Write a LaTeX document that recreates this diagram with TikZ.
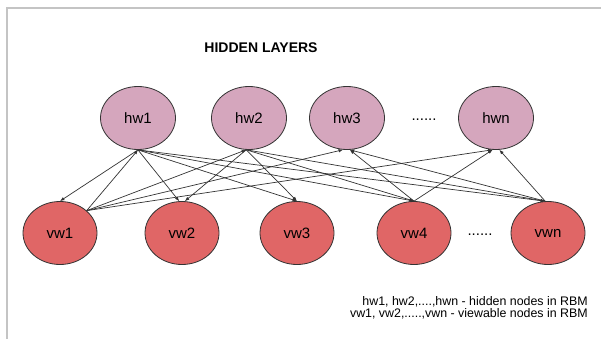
\documentclass[tikz,border=0pt]{standalone}
\usepackage{fontspec}
\setmainfont{Liberation Sans}
\usetikzlibrary{shapes.geometric,arrows.meta}
\definecolor{hidfill}{HTML}{D5A6BD}
\definecolor{visfill}{HTML}{E06666}
\definecolor{edgecol}{HTML}{333333}
\definecolor{framecol}{HTML}{C4C4C4}
\tikzset{
  hid/.style={ellipse, draw=edgecol, line width=0.8pt, fill=hidfill, minimum width=75pt, minimum height=63pt, inner sep=0pt, font=\fontsize{15}{18}\selectfont},
  vis/.style={ellipse, draw=edgecol, line width=0.8pt, fill=visfill, minimum width=74pt, minimum height=63pt, inner sep=0pt, font=\fontsize{15}{18}\selectfont},
  conn/.style={draw=edgecol, line width=0.7pt, -{Latex[length=4.5pt,width=3.5pt]}},
  dotstext/.style={font=\fontsize{15}{18}\selectfont, inner sep=0pt},
}
\begin{document}
\begin{tikzpicture}[x=1pt,y=-1pt]
\useasboundingbox (0,0) rectangle (601,339);
\fill[white] (0,0) rectangle (601,339);
\draw[framecol, line width=1.5pt] (7,339) -- (7,8) -- (601,8);
\node[font=\bfseries\fontsize{14}{16}\selectfont] (title) at (261,48) {HIDDEN LAYERS};
\node[hid] (hw1) at (138,118) {hw1};
\node[hid] (hw2) at (249,118) {hw2};
\node[hid] (hw3) at (347,118) {hw3};
\node[hid] (hwn) at (496,118) {hwn};
\node[dotstext] (hdots) at (424,120) {......};
\node[vis] (vw1) at (60,233) {vw1};
\node[vis] (vw2) at (182,233) {vw2};
\node[vis] (vw3) at (297,233) {vw3};
\node[vis] (vw4) at (414,233) {vw4};
\node[vis] (vwn) at (548,233) {vwn};
\node[dotstext] (vdots) at (480,235) {......};
% hw1 -> all visible
\draw[conn] (hw1.south) -- (vw1.north);
\draw[conn] (hw1.south) -- (vw2.95);
\draw[conn] (hw1.south) -- (vw3.north);
\draw[conn] (hw1.south) -- (vw4.north);
\draw[conn] (hw1.south) -- (vwn.95);
% hw2 -> vw2..vwn
\draw[conn] (hw2.265) -- (vw2.85);
\draw[conn] (hw2.265) -- (vw3.north);
\draw[conn] (hw2.265) -- (vw4.north);
\draw[conn] (hw2.265) -- (vwn.95);
% vw1 -> all hidden
\draw[conn] (vw1.40) -- (hw1.south);
\draw[conn] (vw1.40) -- (hw2.265);
\draw[conn] (vw1.40) -- (hw3.263);
\draw[conn] (vw1.40) -- (hwn.264);
% vw4, vwn -> hw3, hwn
\draw[conn] (vw4.north) -- (hw3.275);
\draw[conn] (vw4.north) -- (hwn.264);
\draw[conn] (vwn.95) -- (hw3.275);
\draw[conn] (vwn.95) -- (hwn.276);
\node[anchor=east, align=right, font=\fontsize{12.4}{11.7}\selectfont, inner sep=0pt] (legend) at (588,307.5) {hw1, hw2,....,hwn - hidden nodes in RBM\\vw1, vw2,.....,vwn - viewable nodes in RBM};
\end{tikzpicture}
\end{document}
